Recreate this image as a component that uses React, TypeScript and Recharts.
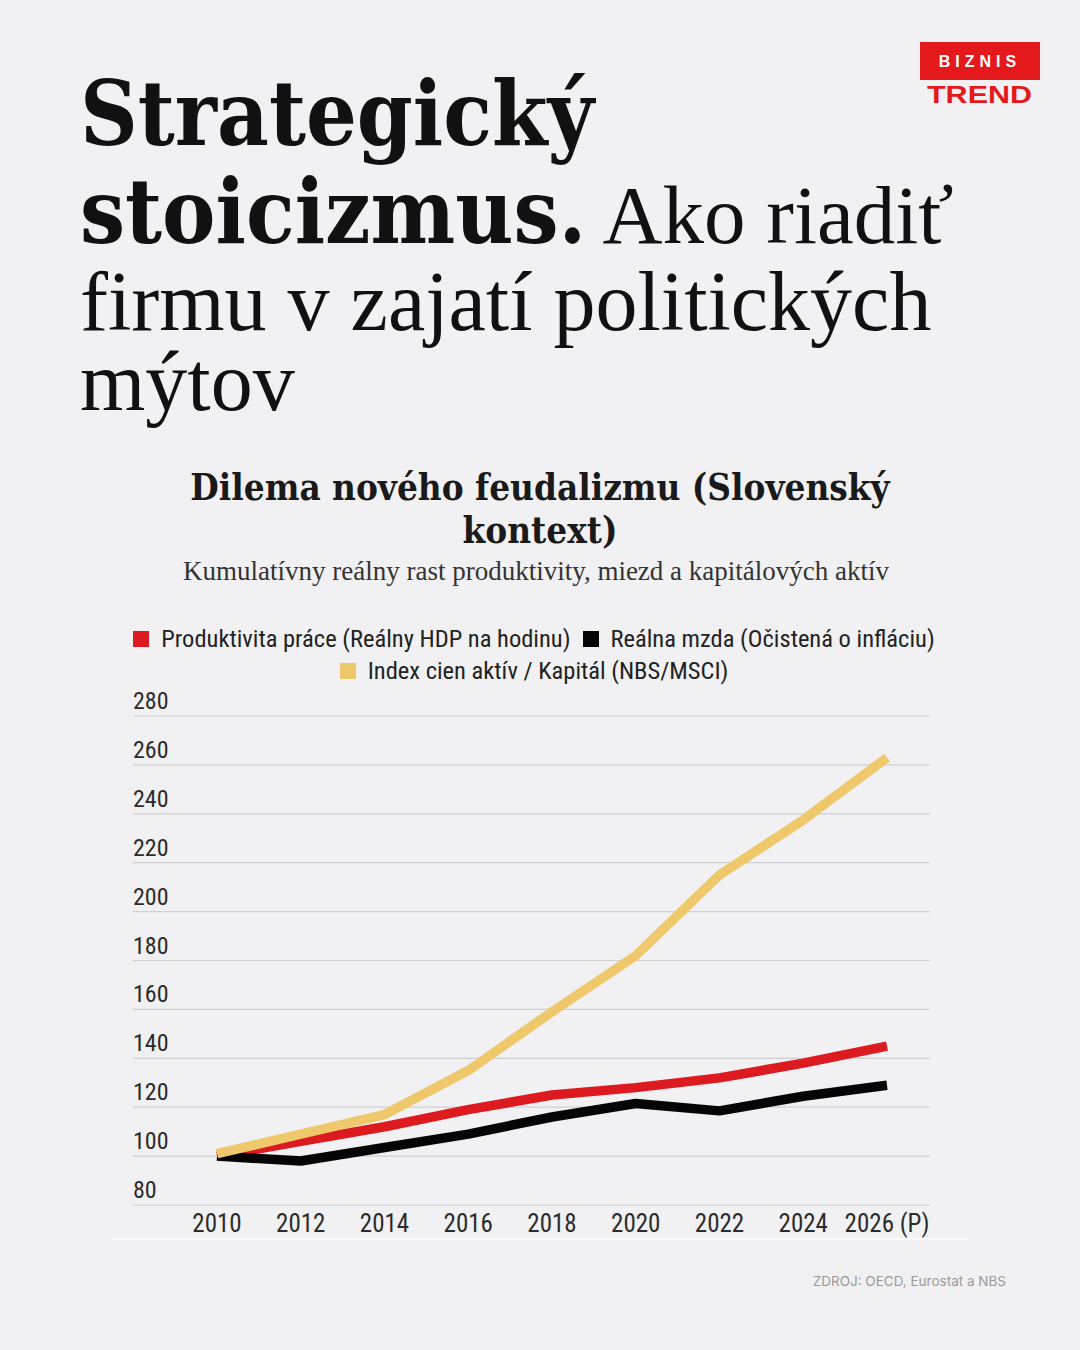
import React from 'react';
import { LineChart, Line, XAxis, YAxis, CartesianGrid } from 'recharts';

const years = ['2010', '2012', '2014', '2016', '2018', '2020', '2022', '2024', '2026 (P)'];
const productivity = [100, 106, 112, 119, 125, 128, 132, 138, 145];
const wages = [100, 98, 103.5, 109, 116, 121.5, 118.5, 124.5, 129];
const assets = [101, 109, 117, 135, 159, 182, 215, 237.5, 263];
const yTicks = [80, 100, 120, 140, 160, 180, 200, 220, 240, 260, 280];

const seriesKeys = ['productivity', 'wages', 'assets'];
const seriesNames = [
  'Produktivita práce (Reálny HDP na hodinu)',
  'Reálna mzda (Očistená o infláciu)',
  'Index cien aktív / Kapitál (NBS/MSCI)',
];
const seriesColors = ['#dc1a1f', '#050505', '#eec86a'];

const data = years.map((year, i) => ({
  year,
  productivity: productivity[i],
  wages: wages[i],
  assets: assets[i],
}));

const BG = '#f1f1f3';
const condSans = '"Roboto Condensed", "Liberation Sans Narrow", "DejaVu Sans Condensed", Roboto, sans-serif';
const boldSerif = '"DejaVu Serif Condensed", "DejaVu Serif", serif';
const lightSerif = '"Liberation Serif", serif';

const YTick = (props: any) => {
  const { x, y, payload } = props;
  return (
    <text x={x} y={y - 7} textAnchor="start" fontFamily={condSans} fontSize={24} fill="#2b2b2b" style={{ fontStretch: 'condensed' }}>
      {payload.value}
    </text>
  );
};

const XTick = (props: any) => {
  const { x, y, payload } = props;
  return (
    <text x={x} y={y + 27} textAnchor="middle" fontFamily={condSans} fontSize={25} fill="#2b2b2b" style={{ fontStretch: 'condensed' }}>
      {payload.value}
    </text>
  );
};

const LegendItem = ({ i }: { i: number }) => (
  <span style={{ display: 'inline-flex', alignItems: 'center', marginRight: 12 }}>
    <span style={{ width: 16, height: 16, background: seriesColors[i], display: 'inline-block', marginRight: 12 }} />
    <span>{seriesNames[i]}</span>
  </span>
);

export default function App() {
  return (
    <div style={{ position: 'absolute', left: 0, top: 0, width: 1080, height: 1350, background: BG, overflow: 'hidden' }}>
      <svg width={1080} height={600} style={{ position: 'absolute', left: 0, top: 0 }}>
        {/* logo */}
        <rect x={920} y={42} width={120} height={38} fill="#e3191b" />
        <text x={980} y={67} textAnchor="middle" fontFamily='"Liberation Sans", Arial, sans-serif' fontWeight={700} fontSize={16} letterSpacing={5} fill="#fff">BIZNIS</text>
        <text x={927} y={103} fontFamily='"Liberation Sans", Arial, sans-serif' fontWeight={900} fontSize={23} fill="#e3191b" textLength={105} lengthAdjust="spacingAndGlyphs">TREND</text>

        {/* headline */}
        <text x={80} y={145} fontFamily={boldSerif} fontWeight={700} fontSize={89} fill="#111" style={{ fontStretch: 'condensed' }}>Strategický</text>
        <text x={80} y={243} fill="#111">
          <tspan fontFamily={boldSerif} fontWeight={700} fontSize={89} style={{ fontStretch: 'condensed' }}>stoicizmus.</tspan>
          <tspan fontFamily={lightSerif} fontWeight={400} fontSize={83}> Ako riadiť</tspan>
        </text>
        <text x={80} y={330} fontFamily={lightSerif} fontSize={84} fill="#111">firmu v zajatí politických</text>
        <text x={80} y={410} fontFamily={lightSerif} fontSize={84} fill="#111">mýtov</text>

        {/* chart title */}
        <text x={540} y={500} textAnchor="middle" fontFamily={boldSerif} fontWeight={700} fontSize={36.5} fill="#1a1a1a" style={{ fontStretch: 'condensed' }}>Dilema nového feudalizmu (Slovenský</text>
        <text x={540} y={543} textAnchor="middle" fontFamily={boldSerif} fontWeight={700} fontSize={36.5} fill="#1a1a1a" style={{ fontStretch: 'condensed' }}>kontext)</text>
        <text x={536} y={580} textAnchor="middle" fontFamily={lightSerif} fontSize={27} fill="#333">Kumulatívny reálny rast produktivity, miezd a kapitálových aktív</text>
      </svg>

      {/* legend */}
      <div style={{ position: 'absolute', left: 100, top: 623, width: 880, textAlign: 'center', fontFamily: condSans, fontSize: 24.5, color: '#222', lineHeight: '32px', fontStretch: 'condensed' }}>
        <div><LegendItem i={0} /><LegendItem i={1} /></div>
        <div><LegendItem i={2} /></div>
      </div>

      <div style={{ position: 'absolute', left: 0, top: 600 }}>
        <LineChart width={1080} height={650} data={data} margin={{ top: 116, right: 150, bottom: 11, left: 133 }}>
          <CartesianGrid vertical={false} stroke="#cfcfd1" strokeWidth={1.2} />
          <XAxis dataKey="year" axisLine={false} tickLine={false} tickSize={0} tickMargin={0} height={34} padding={{ left: 84, right: 43 }} tick={<XTick />} interval={0} />
          <YAxis domain={[80, 280]} ticks={yTicks} mirror={true} width={60} axisLine={false} tickLine={false} tickSize={0} tickMargin={0} tick={<YTick />} interval={0} />
          {seriesKeys.map((k, i) => (
            <Line key={k} type="linear" dataKey={k} name={seriesNames[i]} stroke={seriesColors[i]} strokeWidth={9.5} strokeLinejoin="round" strokeLinecap="butt" dot={false} activeDot={false} isAnimationActive={false} />
          ))}
        </LineChart>
      </div>

      <div style={{ position: 'absolute', left: 112, top: 1238, width: 856, height: 2, background: '#fbfbfc' }} />

      <div style={{ position: 'absolute', right: 74, top: 1273, fontFamily: 'Inter, "Noto Sans", sans-serif', fontSize: 13.5, color: '#9a9a9a' }}>
        ZDROJ: OECD, Eurostat a NBS
      </div>
    </div>
  );
}
